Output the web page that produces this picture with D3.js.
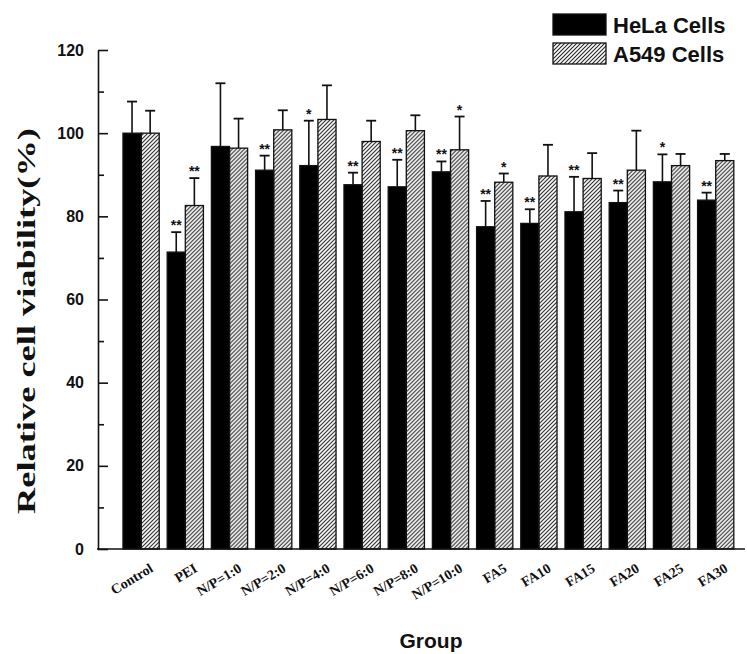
<!DOCTYPE html>
<html>
<head>
<meta charset="utf-8">
<script src="https://cdn.jsdelivr.net/npm/d3@7"></script>
<style>
  body { margin: 0; background: #fff; }
  svg { display: block; }
</style>
</head>
<body>
<div id="chart"></div>
<script>
const groups = ["Control", "PEI", "N/P=1:0", "N/P=2:0", "N/P=4:0", "N/P=6:0", "N/P=8:0",
                "N/P=10:0", "FA5", "FA10", "FA15", "FA20", "FA25", "FA30"];
const series = ["HeLa Cells", "A549 Cells"];
const hela = [100, 71.4, 96.8, 91.1, 92.2, 87.6, 87.1, 90.7, 77.5, 78.3, 81.1, 83.3, 88.3, 83.9];
const helaErr = [7.6, 4.8, 15.2, 3.5, 10.8, 2.9, 6.5, 2.5, 6.2, 3.4, 8.4, 2.9, 6.6, 1.8];
const a549 = [100, 82.6, 96.4, 100.8, 103.3, 98.0, 100.6, 96.0, 88.2, 89.7, 89.1, 91.1, 92.2, 93.4];
const a549Err = [5.4, 6.6, 7.1, 4.7, 8.2, 5.0, 3.7, 8.0, 2.1, 7.5, 6.1, 9.5, 2.8, 1.6];
const helaSig = ["", "**", "", "**", "*", "**", "**", "**", "**", "**", "**", "**", "*", "**"];
const a549Sig = ["", "**", "", "", "", "", "", "*", "*", "", "", "", "", ""];
const yTicks = [0, 20, 40, 60, 80, 100, 120];
const yMinor = [10, 30, 50, 70, 90, 110];

const width = 747, height = 654;

// one row per bar, built from the arrays above
const rows = [];
groups.forEach((g, i) => {
  rows.push({group: g, key: series[0], value: hela[i], err: helaErr[i], sig: helaSig[i]});
  rows.push({group: g, key: series[1], value: a549[i], err: a549Err[i], sig: a549Sig[i]});
});

const svg = d3.select("#chart").append("svg")
    .attr("width", width)
    .attr("height", height);

const defs = svg.append("defs");
defs.append("pattern")
    .attr("id", "hatch")
    .attr("patternUnits", "userSpaceOnUse")
    .attr("width", 4)
    .attr("height", 4)
  .append("path")
    .attr("d", "M-1,1 l2,-2 M0,4 l4,-4 M3,5 l2,-2")
    .attr("stroke", "#222")
    .attr("stroke-width", 1.1);

const fill = d3.scaleOrdinal(series, ["#000", "url(#hatch)"]);

const y = d3.scaleLinear().domain([0, 120]).range([549, 50]);
const x = d3.scaleBand().domain(groups)
    .range([119, 119 + 14 * 44.2])
    .paddingInner(0.18)
    .paddingOuter(0.09);
const x1 = d3.scaleBand().domain(series).range([0, x.bandwidth()]);

// bars
const bar = svg.append("g").selectAll("g")
  .data(rows)
  .join("g")
    .attr("transform", d => `translate(${x(d.group) + x1(d.key)},0)`);

bar.append("rect")
    .attr("x", 0)
    .attr("y", d => y(d.value))
    .attr("width", x1.bandwidth())
    .attr("height", d => y(0) - y(d.value))
    .attr("fill", d => fill(d.key))
    .attr("stroke", "#111")
    .attr("stroke-width", 1.3);

const cx = x1.bandwidth() / 2;
bar.append("line")
    .attr("x1", cx).attr("x2", cx)
    .attr("y1", d => y(d.value))
    .attr("y2", d => y(d.value + d.err))
    .attr("stroke", "#111")
    .attr("stroke-width", 1.6);
bar.append("line")
    .attr("x1", cx - 5).attr("x2", cx + 5)
    .attr("y1", d => y(d.value + d.err))
    .attr("y2", d => y(d.value + d.err))
    .attr("stroke", "#111")
    .attr("stroke-width", 1.8);

bar.filter(d => d.sig).append("text")
    .attr("x", cx)
    .attr("y", d => y(d.value + d.err) - 2)
    .attr("text-anchor", "middle")
    .attr("font-family", "Liberation Sans, Arial, sans-serif")
    .attr("font-weight", "bold")
    .attr("font-size", 14)
    .attr("fill", "#111")
    .text(d => d.sig);

// y axis
const yAxis = svg.append("g")
    .attr("transform", "translate(98,0)")
    .call(d3.axisLeft(y).tickValues(yTicks).tickSize(-10).tickSizeOuter(0).tickPadding(14));
yAxis.select(".domain").attr("stroke", "#111").attr("stroke-width", 1.6);
yAxis.selectAll(".tick line").attr("stroke", "#111").attr("stroke-width", 1.6);
yAxis.selectAll(".tick text")
    .attr("font-family", "Liberation Sans, Arial, sans-serif")
    .attr("font-weight", "bold")
    .attr("font-size", 16)
    .attr("fill", "#111");

const yMinorAxis = svg.append("g")
    .attr("transform", "translate(98,0)")
    .call(d3.axisLeft(y).tickValues(yMinor).tickSize(-6).tickFormat(""));
yMinorAxis.select(".domain").remove();
yMinorAxis.selectAll(".tick line").attr("stroke", "#111").attr("stroke-width", 1.6);

// x axis
svg.append("line")
    .attr("x1", 97).attr("x2", 745)
    .attr("y1", y(0)).attr("y2", y(0))
    .attr("stroke", "#111")
    .attr("stroke-width", 1.6);

const xAxis = svg.append("g")
    .attr("transform", `translate(0,${y(0)})`)
    .call(d3.axisBottom(x).tickSize(0));
xAxis.select(".domain").remove();
xAxis.selectAll(".tick text")
    .attr("x", 0).attr("y", 0).attr("dy", 0)
    .attr("transform", "translate(13,22) rotate(-31)")
    .attr("text-anchor", "end")
    .attr("font-family", "Liberation Serif, Times New Roman, serif")
    .attr("font-weight", "bold")
    .attr("font-size", 14)
    .attr("fill", "#111");

// axis titles
svg.append("text")
    .attr("transform", "translate(35,321) rotate(-90)")
    .attr("text-anchor", "middle")
    .attr("font-family", "Liberation Serif, Times New Roman, serif")
    .attr("font-weight", "bold")
    .attr("font-size", 26)
    .attr("textLength", 386)
    .attr("lengthAdjust", "spacingAndGlyphs")
    .attr("fill", "#111")
    .text("Relative cell viability(%)");

svg.append("text")
    .attr("x", 431)
    .attr("y", 648)
    .attr("text-anchor", "middle")
    .attr("font-family", "Liberation Sans, Arial, sans-serif")
    .attr("font-weight", "bold")
    .attr("font-size", 21)
    .attr("fill", "#111")
    .text("Group");

// legend
const legend = svg.append("g").selectAll("g")
  .data(series)
  .join("g")
    .attr("transform", (d, i) => `translate(553,${14 + i * 29})`);
legend.append("rect")
    .attr("width", 53)
    .attr("height", 21)
    .attr("fill", d => fill(d))
    .attr("stroke", "#111")
    .attr("stroke-width", 1.3);
legend.append("text")
    .attr("x", 60)
    .attr("y", 19)
    .attr("font-family", "Liberation Sans, Arial, sans-serif")
    .attr("font-weight", "bold")
    .attr("font-size", 22)
    .attr("fill", "#111")
    .text(d => d);
</script>
</body>
</html>
